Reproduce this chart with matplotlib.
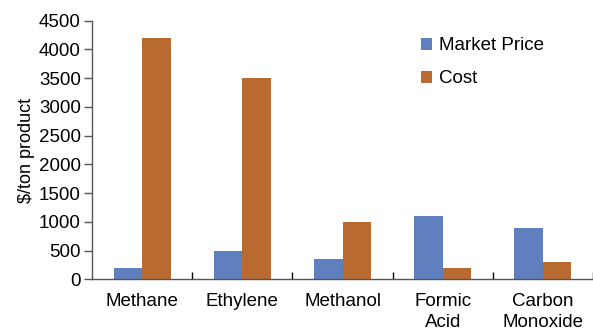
import matplotlib
matplotlib.use("Agg")
import matplotlib.pyplot as plt
import numpy as np

categories = ["Methane", "Ethylene", "Methanol", "Formic\nAcid", "Carbon\nMonoxide"]
market_price = [200, 500, 350, 1100, 900]
cost = [4200, 3500, 1000, 200, 300]
yticks = [0, 500, 1000, 1500, 2000, 2500, 3000, 3500, 4000, 4500]

plt.rcParams["font.family"] = ["Liberation Sans", "DejaVu Sans"]
fs = 13.5

fig = plt.figure(figsize=(5.93, 3.30), dpi=100)
ax = fig.add_axes([92 / 593, 1 - 279.3 / 330, 1 - 92 / 593, (279.3 - 20.7) / 330])

x = np.arange(len(categories))
w = 0.285
blue = "#5F7FBE"
orange = "#B96A31"
ax.bar(x - w / 2, market_price, w, color=blue, label="Market Price")
ax.bar(x + w / 2, cost, w, color=orange, label="Cost")

ax.set_xlim(-0.5, 4.41)
ax.set_ylim(0, 4500)
ax.set_yticks(yticks)
ax.tick_params(axis="y", labelsize=fs, direction="out", length=6, width=1, pad=2)

ax.set_xticks(x)
ax.set_xticklabels(categories, fontsize=fs, linespacing=1.3)
ax.tick_params(axis="x", which="major", length=0, pad=10)
ax.set_xticks(np.arange(0.5, len(categories), 1.0), minor=True)
ax.tick_params(axis="x", which="minor", direction="in", length=5, width=1)

for side in ("top", "right"):
    ax.spines[side].set_visible(False)
for side in ("left", "bottom"):
    ax.spines[side].set_color("#555555")
    ax.spines[side].set_linewidth(1)
ax.tick_params(colors="#555555", labelcolor="black")

ax.set_ylabel("$/ton product", fontsize=13, labelpad=3)

ax.legend(loc="upper left", bbox_to_anchor=(413 / 593, 1 - 30 / 330),
          bbox_transform=fig.transFigure, frameon=False, fontsize=fs,
          handlelength=0.6, handleheight=0.6, handletextpad=0.4,
          labelspacing=0.85, borderaxespad=0)

fig.savefig("out.png", dpi=100)
